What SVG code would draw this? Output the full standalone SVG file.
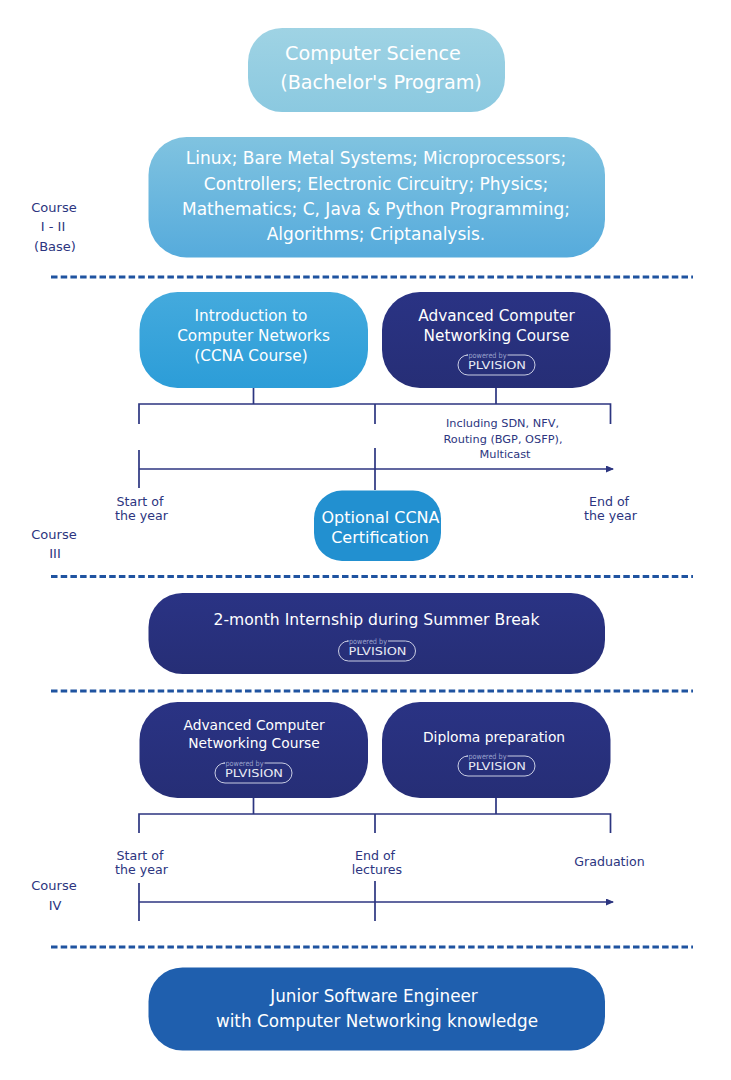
<svg xmlns="http://www.w3.org/2000/svg" xmlns:xlink="http://www.w3.org/1999/xlink" width="731" height="1080" viewBox="0 0 731 1080">
<style>
text{font-family:"DejaVu Sans",Verdana,sans-serif;text-anchor:middle}
.w{fill:#fff}
.d{fill:#2c3580}
.t1{font-size:19.2px}
.t2{font-size:17px}
.t3{font-size:15.3px}
.t3b{font-size:15.6px}
.t3c{font-size:16.8px}
.t3d{font-size:16px}
.t4{font-size:13.8px}
.t4b{font-size:13px}
.t5{font-size:12.600px}
.t6{font-size:11.300px}
.line{fill:none;stroke:#2c3580;stroke-width:1.700}
.dash{fill:none;stroke:#1f53a0;stroke-width:3;stroke-dasharray:6.500 3.200}
.navy{fill:url(#gn)}
.logoframe{fill:none;stroke:#c9cde3;stroke-width:1}
.logoname{fill:#e8eaf4;font-size:11px}
.logopow{fill:#9aa1cc;font-size:7.500px}
</style>
<defs>
<linearGradient id="g1" x1="0" y1="0" x2="0" y2="1"><stop offset="0" stop-color="#9fd3e4"/><stop offset="1" stop-color="#8bc9e0"/></linearGradient>
<linearGradient id="g2" x1="0" y1="0" x2="0" y2="1"><stop offset="0" stop-color="#80c3e0"/><stop offset="1" stop-color="#56abdc"/></linearGradient>
<linearGradient id="g3" x1="0" y1="0" x2="0" y2="1"><stop offset="0" stop-color="#44aadd"/><stop offset="1" stop-color="#2c9dd8"/></linearGradient>
<linearGradient id="gn" x1="0" y1="0" x2="0" y2="1"><stop offset="0" stop-color="#2a3384"/><stop offset="1" stop-color="#262e76"/></linearGradient>
<marker id="arr" markerWidth="8" markerHeight="7" refX="7" refY="3.500" orient="auto" markerUnits="userSpaceOnUse"><path d="M0 0L8 3.500L0 7z" fill="#2c3580"/></marker>
<g id="logo">
<path class="logoframe" d="M-30 -10H-28.500A10 10 0 0 0 -28.500 10H28.500A10 10 0 0 0 28.500 -10H11"/>
<text class="logopow" x="-9" y="-7.500" textLength="38" lengthAdjust="spacingAndGlyphs">powered by</text>
<text class="logoname" x="0.500" y="4" textLength="58" lengthAdjust="spacingAndGlyphs">PLVISION</text>
</g>
</defs>

<g id="connectors">
<path class="dash" d="M51 277H693M51 576.500H693M51 691H693M51 947H693"/>
<path class="line" d="M253.500 388V404M496 388V404M139 424V404H610.500V424M375 404V424"/>
<path class="line" d="M139 450V488M375 448V490"/>
<path class="line" d="M139 469H613" marker-end="url(#arr)"/>
<path class="line" d="M253.500 798V814M496 798V814M139 833V814H610.500V833M375 814V833"/>
<path class="line" d="M139 883V921M375 881V921"/>
<path class="line" d="M139 902H613" marker-end="url(#arr)"/>
</g>

<g id="node-title"><rect x="248" y="28" width="257" height="84" rx="34" fill="url(#g1)"/>
<text class="w t1" x="373" y="60">Computer Science</text><text class="w t1" x="381" y="89">(Bachelor's Program)</text></g>

<g id="node-base"><rect x="148.500" y="137" width="456.500" height="120.500" rx="38" fill="url(#g2)"/>
<text class="w t2" x="376" y="164">Linux; Bare Metal Systems; Microprocessors;</text>
<text class="w t2" x="376" y="190">Controllers; Electronic Circuitry; Physics;</text>
<text class="w t2" x="376" y="215">Mathematics; C, Java &amp; Python Programming;</text>
<text class="w t2" x="376" y="240">Algorithms; Criptanalysis.</text></g>

<g id="label-course1" class="d"><text class="t4b" x="54" y="212">Course</text><text class="t4b" x="53" y="231">I - II</text><text class="t4b" x="55" y="251">(Base)</text></g>

<g id="node-intro"><rect x="139.500" y="292" width="228.500" height="96" rx="38" fill="url(#g3)"/>
<text class="w t3" x="251" y="321">Introduction to</text><text class="w t3" x="253.500" y="341">Computer Networks</text><text class="w t3" x="251" y="361">(CCNA Course)</text></g>

<g id="node-adv1"><rect x="382" y="292" width="228.500" height="96" rx="38" class="navy"/>
<text class="w t3" x="496.500" y="321">Advanced Computer</text><text class="w t3" x="496.500" y="341">Networking Course</text>
<use xlink:href="#logo" href="#logo" x="496.500" y="365"/></g>

<g id="label-including" class="d"><text class="t6" x="502.500" y="427">Including SDN, NFV,</text><text class="t6" x="503" y="442.500">Routing (BGP, OSFP),</text><text class="t6" x="505" y="457.500">Multicast</text></g>
<g id="label-start1" class="d"><text class="t5" x="140" y="506">Start of</text><text class="t5" x="141.500" y="520">the year</text></g>
<g id="label-end1" class="d"><text class="t5" x="609" y="506">End of</text><text class="t5" x="610.500" y="520">the year</text></g>

<g id="node-cert"><rect x="314" y="490.500" width="127" height="70.500" rx="28" fill="#2290d0"/>
<text class="w t3d" x="380.500" y="523">Optional CCNA</text><text class="w t3d" x="380" y="543">Certification</text></g>

<g id="label-course3" class="d"><text class="t4b" x="54" y="539">Course</text><text class="t4b" x="55" y="558">III</text></g>

<g id="node-intern"><rect x="148.500" y="593" width="456.500" height="81" rx="34" class="navy"/>
<text class="w t3b" x="376.500" y="625">2-month Internship during Summer Break</text>
<use xlink:href="#logo" href="#logo" x="377" y="651"/></g>

<g id="node-adv2"><rect x="139.500" y="702" width="228.500" height="96" rx="38" class="navy"/>
<text class="w t4" x="254" y="729.500">Advanced Computer</text><text class="w t4" x="254" y="747.500">Networking Course</text>
<use xlink:href="#logo" href="#logo" x="253.500" y="773"/></g>

<g id="node-diploma"><rect x="382" y="702" width="228.500" height="96" rx="38" class="navy"/>
<text class="w t4" x="494" y="741.500">Diploma preparation</text>
<use xlink:href="#logo" href="#logo" x="496.500" y="766"/></g>

<g id="label-start2" class="d"><text class="t5" x="140" y="860">Start of</text><text class="t5" x="141.500" y="874">the year</text></g>
<g id="label-end2" class="d"><text class="t5" x="375" y="860">End of</text><text class="t5" x="377" y="874">lectures</text></g>
<g id="label-grad" class="d"><text class="t5" x="609.500" y="866">Graduation</text></g>
<g id="label-course4" class="d"><text class="t4b" x="54" y="890">Course</text><text class="t4b" x="55" y="910">IV</text></g>

<g id="node-final"><rect x="148.500" y="967.500" width="456.500" height="83" rx="34" fill="#1f5fae"/>
<text class="w t3c" x="374" y="1001.500">Junior Software Engineer</text><text class="w t3c" x="377" y="1026.500">with Computer Networking knowledge</text></g>
</svg>
